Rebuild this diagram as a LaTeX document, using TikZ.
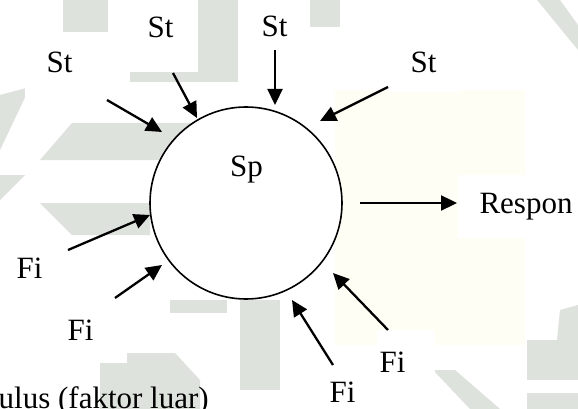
\documentclass[tikz,border=0pt]{standalone}
\usepackage{fontspec}
\setmainfont{Liberation Serif}
\usetikzlibrary{arrows.meta}
\definecolor{wmgray}{RGB}{222,226,220}
\definecolor{wmyellow}{RGB}{255,254,244}
\tikzset{
  wm/.style={fill=wmgray, draw=none},
  whitebox/.style={fill=white, draw=none},
  lbl/.style={font=\fontsize{31}{37}\selectfont, inner sep=0pt, anchor=base},
  inarrow/.style={line width=2.3pt, -{Triangle[length=16pt,width=15pt]}},
}
\begin{document}
\begin{tikzpicture}[x=1pt,y=-1pt]
\useasboundingbox (0,0) rectangle (578,409);
\fill[white] (0,0) rectangle (578,409);
% watermark (approximate)
\fill[wmyellow] (335,90) rectangle (525,345);
\fill[wm] (63,0) rectangle (110,32);
\fill[wm] (198,0) rectangle (238,82);
\fill[wm] (130,72) rectangle (213,82);
\fill[wm] (310,0) rectangle (340,27);
\fill[wm] (537,0) -- (560,0) -- (578,25) -- (578,50) -- cycle;
\fill[wm] (72,123) -- (200,123) -- (200,160) -- (40,160) -- cycle;
\fill[wm] (0,95) -- (30,87) -- (0,150) -- cycle;
\fill[wm] (40,203) -- (150,203) -- (150,235) -- (72,235) -- cycle;
\fill[wm] (0,175) -- (25,175) -- (0,200) -- cycle;
\fill[wm] (170,300) -- (227,300) -- (227,313) -- (170,313) -- cycle;
\fill[wm] (240,300) rectangle (280,390);
\fill[wm] (100,353) -- (175,353) -- (200,380) -- (200,409) -- (100,409) -- cycle;
\fill[wm] (527,340) rectangle (578,380);
\fill[wm] (527,393) rectangle (578,409);
\fill[wm] (433,370) -- (455,370) -- (500,409) -- (470,409) -- cycle;
\fill[wm] (560,310) -- (578,305) -- (578,340) -- (557,340) -- cycle;
% white label boxes
\fill[whitebox] (25,32) rectangle (107,110);
\fill[whitebox] (108,0) rectangle (198,72);
\fill[whitebox] (238,0) rectangle (308,50);
\fill[whitebox] (388,43) rectangle (460,92);
\fill[whitebox] (0,235) rectangle (68,298);
\fill[whitebox] (47,298) rectangle (127,363);
\fill[whitebox] (377,330) rectangle (435,382);
\fill[whitebox] (310,365) rectangle (378,409);
\fill[whitebox] (458,175) rectangle (578,238);
% circle
\node[circle, draw, fill=white, line width=1.6pt, minimum size=192pt, inner sep=0pt] (sp) at (246,203) {};
\node[lbl] (sptext) at (246.5,176) {Sp};
% labels
\node[lbl] (st1) at (59.5,72.5) {St};
\node[lbl] (st2) at (160.5,38) {St};
\node[lbl] (st3) at (274.5,37) {St};
\node[lbl] (st4) at (423.5,73) {St};
\node[lbl] (fi1) at (29.5,278) {Fi};
\node[lbl] (fi2) at (80.5,340) {Fi};
\node[lbl] (fi3) at (392.5,372) {Fi};
\node[lbl] (fi4) at (342.5,402.5) {Fi};
\node[lbl] (resp) at (526,213) {Respon};
\node[lbl, anchor=base west] (stim) at (-1.5,408) {ulus (faktor luar)};
% arrow coordinates
\coordinate (a1) at (107,100); \coordinate (t1) at (162,132);
\coordinate (a2) at (173,73);  \coordinate (t2) at (197,118);
\coordinate (a3) at (275,50);  \coordinate (t3) at (275,105);
\coordinate (a4) at (388,87);  \coordinate (t4) at (320,121);
\coordinate (b1) at (68,250);  \coordinate (u1) at (150,215);
\coordinate (b2) at (115,298); \coordinate (u2) at (162,265);
\coordinate (b3) at (388,330); \coordinate (u3) at (333,273);
\coordinate (b4) at (333,365); \coordinate (u4) at (292,300);
\coordinate (r0) at (360,203); \coordinate (r1) at (457,203);
% arrows
\draw[inarrow] (a1) -- (t1);
\draw[inarrow] (a2) -- (t2);
\draw[inarrow] (a3) -- (t3);
\draw[inarrow] (a4) -- (t4);
\draw[inarrow] (b1) -- (u1);
\draw[inarrow] (b2) -- (u2);
\draw[inarrow] (b3) -- (u3);
\draw[inarrow] (b4) -- (u4);
\draw[inarrow] (r0) -- (r1);
\end{tikzpicture}
\end{document}
